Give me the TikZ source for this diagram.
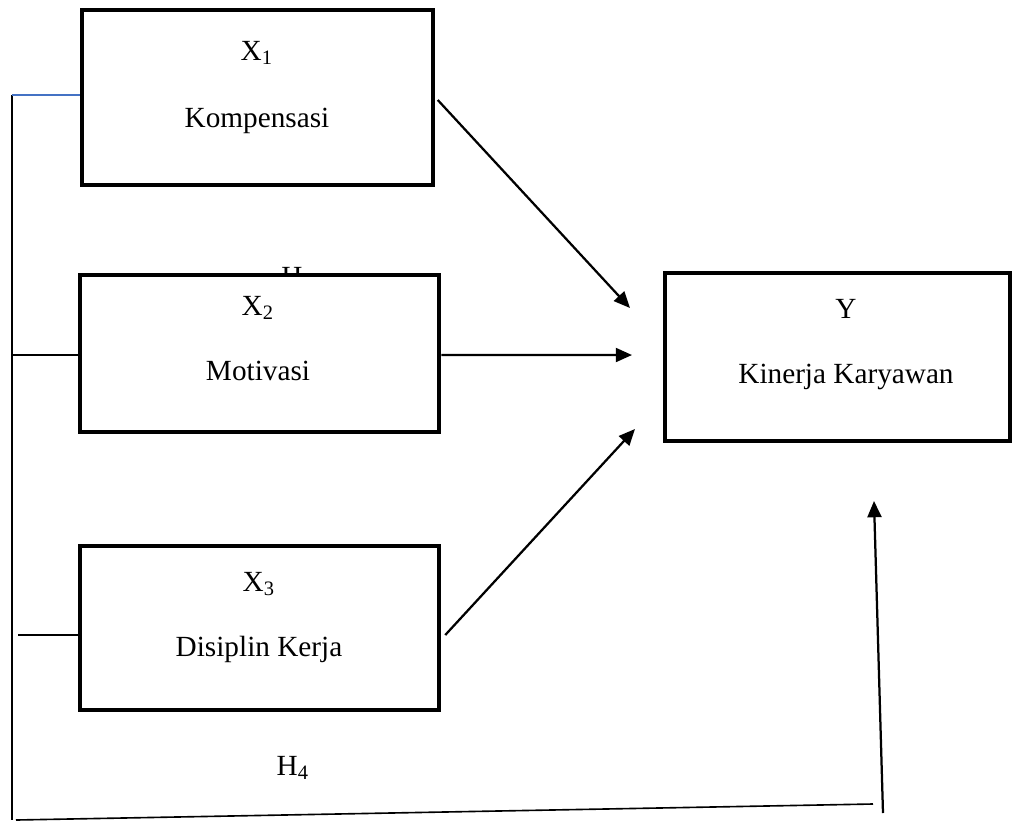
\documentclass[tikz,border=0pt]{standalone}
\usepackage{fontspec}
\setmainfont{Liberation Serif}
\usetikzlibrary{arrows.meta}
\definecolor{wordblue}{RGB}{68,114,196}

\begin{document}
\begin{tikzpicture}[x=0.4pt,y=-0.4pt,
		font=\fontsize{11.7}{14}\selectfont,
		varbox/.style={draw, line width=1.8pt, fill=white, inner sep=0pt},
		lbl/.style={anchor=base, inner sep=0pt},
		link/.style={line width=0.65pt},
		effect/.style={line width=0.9pt, -{Triangle[length=6.5pt,width=5.6pt]}}]
					\useasboundingbox (0,0) rectangle (1016,823);
					
					% hypothesis label partly hidden behind X2
					\node[lbl] (h2) at (292,286) {H};
					
					% Variable boxes
					\node[varbox, minimum width=140.4pt, minimum height=70pt] (x1) at (257.5,97.5) {};
					\node[varbox, minimum width=143.6pt, minimum height=62.8pt] (x2) at (259.5,353.5) {};
					\node[varbox, minimum width=143.6pt, minimum height=65.6pt] (x3) at (259.5,628) {};
					\node[varbox, minimum width=138pt, minimum height=67.2pt] (y) at (837.5,357) {};
					
					\node[lbl] (x1sym) at (257,60) {X\textsubscript{1}};
					\node[lbl] (x1name) at (257,127) {Kompensasi};
					\node[lbl] (x2sym) at (258,315) {X\textsubscript{2}};
					\node[lbl] (x2name) at (258,380) {Motivasi};
					\node[lbl] (x3sym) at (259,591) {X\textsubscript{3}};
					\node[lbl] (x3name) at (259,656) {Disiplin Kerja};
					\node[lbl] (ysym) at (846,318) {Y};
					\node[lbl] (yname) at (846,383) {Kinerja Karyawan};
					\node[lbl] (h4) at (293,775) {H\textsubscript{4}};
					
					% Partial effects
					\coordinate (y1in) at (630,308);
					\coordinate (y2in) at (632,355);
					\coordinate (y3in) at (635,429);
					\draw[effect] ([xshift=1pt,yshift=-1pt]x1.east) -- (y1in);
					\draw[effect] ([yshift=-0.6pt]x2.east) -- (y2in);
					\draw[effect] ([xshift=1.6pt,yshift=-2.8pt]x3.east) -- (y3in);
					
					% Simultaneous effect
					\coordinate (trunktop) at (12,95);
					\coordinate (trunkbot) at (12,820);
					\coordinate (x2tap) at (12,355);
					\coordinate (x3tap) at (18,635);
					\coordinate (botleft) at (16,820);
					\coordinate (botright) at (873,804);
					\coordinate (upfoot) at (883,813);
					\coordinate (uptip) at (874,501);
					\draw[link] (trunktop) -- (trunkbot);
					\draw[link, wordblue] (trunktop) -- (trunktop -| x1.west);
					\draw[link] (x2tap) -- (x2tap -| x2.west);
					\draw[link] (x3tap) -- ([xshift=1.6pt]x3tap -| x3.west);
					\draw[link] (botleft) -- (botright);
					\draw[effect] (upfoot) -- (uptip);
				\end{tikzpicture}
\end{document}
